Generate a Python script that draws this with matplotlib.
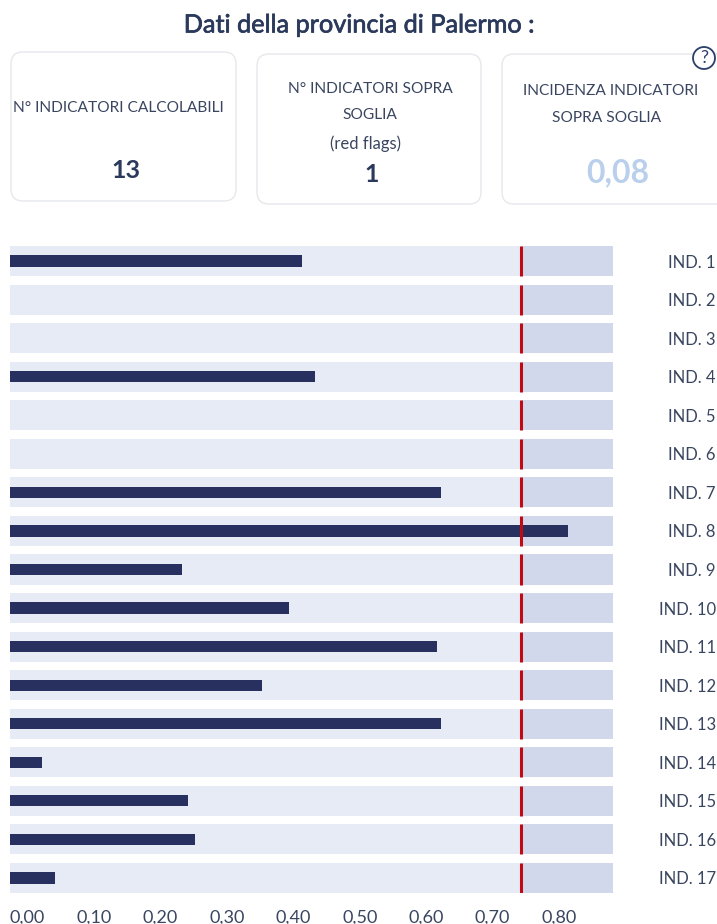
import numpy as np
import matplotlib
matplotlib.use('Agg')
import matplotlib.pyplot as plt
import matplotlib.patheffects as pe
from matplotlib.patches import FancyBboxPatch, Circle, Rectangle

plt.rcParams['font.family'] = ['Lato', 'DejaVu Sans']

W = 717
H = 924
DPI = 100

categories = ['IND. ' + str(i) for i in range(1, 18)]
values = [0.44, np.nan, np.nan, 0.459, np.nan, np.nan, 0.649, 0.84, 0.259,
          0.42, 0.643, 0.38, 0.649, 0.048, 0.268, 0.279, 0.068]
threshold = 0.77
band_end = 0.908
x_ticks = [0.0, 0.1, 0.2, 0.3, 0.4, 0.5, 0.6, 0.7, 0.8]
x_tick_labels = ['0,00', '0,10', '0,20', '0,30', '0,40', '0,50', '0,60', '0,70', '0,80']

title = 'Dati della provincia di Palermo :'
card_values = ['13', '1', '0,08']

NAVY = '#28305f'
TEXT = '#3a4660'

fig = plt.figure(figsize=(W / DPI, H / DPI), dpi=DPI, facecolor='white')

# overlay in pixel coordinates for the title and the cards
bg = fig.add_axes([0, 0, 1, 1])
bg.set_xlim(0, W)
bg.set_ylim(H, 0)
bg.axis('off')

t = bg.text(359, 25, title, ha='center', va='center', fontsize=18.2, color='#2b3a5c')
t.set_path_effects([pe.withStroke(linewidth=0.5, foreground='#2b3a5c')])

cards = [(11, 52, 225, 149), (257, 54, 224, 150), (502, 54, 240, 150)]
for c in cards:
    bg.add_patch(FancyBboxPatch((c[0] + 12, c[1] + 12), c[2] - 24, c[3] - 24,
                                boxstyle='round,pad=12,rounding_size=12',
                                fc='white', ec='#e6e8eb', lw=1.0))

bg.text(118, 108, 'N° INDICATORI CALCOLABILI', ha='center', va='center', fontsize=11.2, color=TEXT)
bg.text(370, 89, 'N° INDICATORI SOPRA', ha='center', va='center', fontsize=11.2, color=TEXT)
bg.text(370, 115, 'SOGLIA', ha='center', va='center', fontsize=11.2, color=TEXT)
flags = bg.text(366, 144, '(red flags)', ha='center', va='center', fontsize=12, color=TEXT)
flags.set_clip_path(Rectangle((300, 130), 140, 18, transform=bg.transData))
bg.text(611, 91, 'INCIDENZA INDICATORI', ha='center', va='center', fontsize=11.2, color=TEXT)
bg.text(607, 118, 'SOPRA SOGLIA', ha='center', va='center', fontsize=11.2, color=TEXT)

bg.text(126, 170, card_values[0], ha='center', va='center', fontsize=18, color='#2b3a5c', weight='bold')
bg.text(372, 174, card_values[1], ha='center', va='center', fontsize=18, color='#2b3a5c', weight='bold')
bg.text(618, 173, card_values[2], ha='center', va='center', fontsize=23, color='#b9cfec', weight='bold')

bg.add_patch(Circle((704, 58), 11, fc='white', ec='#2b3f6b', lw=1.3, zorder=5))
bg.text(704, 58, '?', ha='center', va='center', fontsize=13, color='#2b3f6b', zorder=6)

# chart axes: x=0 at px 10, 66.4 px per 0.1
left = 10
top = 246
bottom = 893
right = 613
ax = fig.add_axes([left / W, 1 - bottom / H, (right - left) / W, (bottom - top) / H])
ax.patch.set_alpha(0)

y = np.arange(len(categories))
ax.barh(y, [threshold] * len(y), height=0.78, color='#e7ebf5')
ax.barh(y, [band_end - threshold] * len(y), left=threshold, height=0.78, color='#d2d8eb')
ax.barh(y, values, height=0.29, color=NAVY, zorder=3)
ax.vlines([threshold] * len(y), y - 0.39, y + 0.39, color='#c00a14', lw=2.2, zorder=4)

ax.set_xlim(0, band_end)
ax.set_ylim(16.39, -0.39)

ax.set_xticks(x_ticks)
ax.set_xticklabels(x_tick_labels, ha='left', fontsize=13, color=TEXT)
ax.set_yticks(y)
ax.set_yticklabels(categories, fontsize=12, color=TEXT, ha='right')
ax.yaxis.tick_right()
ax.tick_params(axis='x', length=0, pad=12)
ax.tick_params(axis='y', length=0, pad=(716 - right) * 72 / DPI)
for s in ax.spines.values():
    s.set_visible(False)

fig.savefig('out.png', dpi=DPI)
